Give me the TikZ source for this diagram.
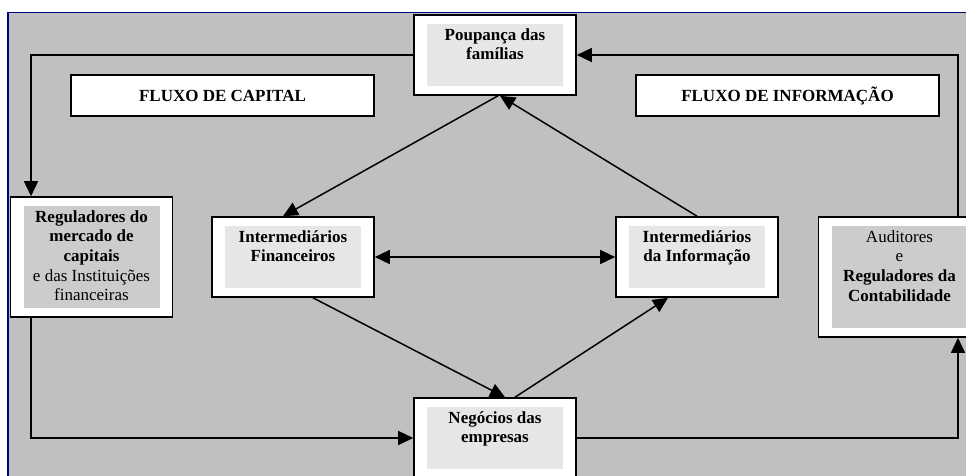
\documentclass[tikz,border=0pt]{standalone}
\usepackage{fontspec}
\setmainfont{Liberation Serif}
\usetikzlibrary{arrows.meta}

\definecolor{fundo}{HTML}{C0C0C0}
\definecolor{claro}{HTML}{E6E6E6}
\definecolor{escuro}{HTML}{CCCCCC}
\definecolor{moldura}{HTML}{000080}

\setlength{\fboxsep}{0pt}
\newcommand{\miolo}[3]{\colorbox{#1}{\parbox[c][#2][t]{136pt}{\centering\rule{0pt}{16pt}#3}}}

\tikzset{
  caixa/.style={draw, fill=white, line width=1.6pt, inner xsep=13pt, inner ysep=9pt,
    font=\fontsize{17pt}{19.7pt}\selectfont},
  rotulo/.style={draw, fill=white, line width=1.6pt, minimum width=303pt, minimum height=41pt,
    font=\fontsize{17pt}{19.7pt}\selectfont\bfseries},
  seta/.style={line width=1.5pt, -{Triangle[length=15pt, width=14pt]}},
  setas/.style={line width=1.5pt, {Triangle[length=15pt, width=14pt]}-{Triangle[length=15pt, width=14pt]}}
}

\begin{document}
\begin{tikzpicture}[x=1pt, y=-1pt]
\useasboundingbox (0,0) rectangle (966,475);
\draw[moldura, fill=fundo, line width=1.5pt] (8,12.5) rectangle (990,500);

% Define nodes
\node[caixa] (poup) at (495,55) {\miolo{claro}{62pt}{\bfseries Poupança das\\famílias}};
\node[rotulo] (fcap) at (222.5,95.5) {FLUXO DE CAPITAL};
\node[rotulo] (finf) at (787.5,95.5) {FLUXO DE INFORMAÇÃO};
\node[caixa] (reg) at (91.5,257) {\miolo{escuro}{102pt}{{\bfseries Reguladores do\\mercado de\\capitais}\\e das Instituições\\financeiras}};
\node[caixa] (intfin) at (293,257) {\miolo{claro}{62pt}{\bfseries Intermediários\\Financeiros}};
\node[caixa] (intinfo) at (697,257) {\miolo{claro}{62pt}{\bfseries Intermediários\\da Informação}};
\node[caixa] (aud) at (899.5,277) {\miolo{escuro}{102pt}{Auditores\\e\\{\bfseries Reguladores da\\Contabilidade}}};
\node[caixa] (neg) at (495,438) {\miolo{claro}{62pt}{\bfseries Negócios das\\empresas}};

\coordinate (esq) at (31,55);
\coordinate (dir) at (958,55);

% Edges
\draw[seta] (poup.west) -| (reg.north -| esq);
\draw[seta] (reg.south -| esq) |- (neg.west);
\draw[seta] (neg.east) -| (aud.south -| dir);
\draw[seta] (aud.north -| dir) |- (poup.east);
\draw[seta] ([xshift=3pt]poup.south) -- ([xshift=-10pt]intfin.north);
\draw[seta] (intinfo.north) -- ([xshift=5pt]poup.south);
\draw[seta] ([xshift=20pt]intfin.south) -- ([xshift=10pt]neg.north);
\draw[seta] ([xshift=20pt]neg.north) -- ([xshift=-29pt]intinfo.south);
\draw[setas] (intfin.east) -- (intinfo.west);
\end{tikzpicture}
\end{document}
